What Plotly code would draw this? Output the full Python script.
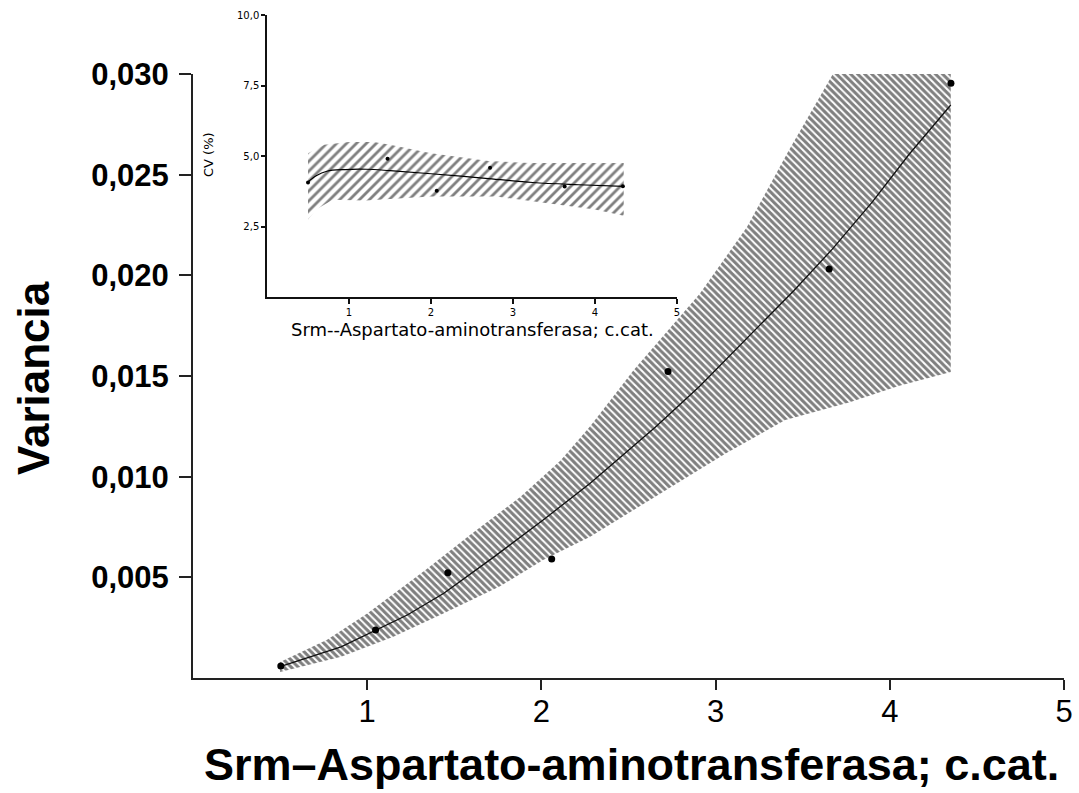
import plotly.graph_objects as go

# ---------------- main chart data ----------------
main_x = [0.504, 1.048, 1.463, 2.059, 2.727, 3.652, 4.351]
main_y = [0.0006, 0.00238, 0.00523, 0.00591, 0.01522, 0.02032, 0.02954]

fit_x = [0.5, 0.85, 1.23, 1.44, 1.73, 2.01, 2.28, 2.66, 2.91, 3.23, 3.45, 3.67, 3.9, 4.11, 4.35]
fit_y = [0.00056, 0.00155, 0.00313, 0.00421, 0.00603, 0.00785, 0.00967, 0.01250,
         0.01450, 0.01730, 0.01925, 0.02130, 0.02365, 0.02600, 0.02846]

band_up_x = [0.5, 0.77, 1.0, 1.34, 1.59, 1.88, 2.11, 2.28, 2.53, 2.91, 3.18, 3.42, 3.68, 4.35]
band_up_y = [0.0008, 0.0019, 0.0032, 0.0054, 0.0071, 0.0090, 0.0108, 0.0125, 0.0153,
             0.0191, 0.0224, 0.0262, 0.0301, 0.0301]
band_lo_x = [0.5, 0.85, 1.15, 1.44, 1.76, 2.01, 2.28, 2.72, 3.06, 3.40, 3.77, 4.05, 4.35]
band_lo_y = [0.0003, 0.00106, 0.00205, 0.00321, 0.00454, 0.00586, 0.00702, 0.00934,
             0.01116, 0.01282, 0.0137, 0.0145, 0.0152]

main_xticks = [1, 2, 3, 4, 5]
main_xticktext = ["1", "2", "3", "4", "5"]
main_yticks = [0.005, 0.010, 0.015, 0.020, 0.025, 0.030]
main_yticktext = ["0,005", "0,010", "0,015", "0,020", "0,025", "0,030"]

# ---------------- inset data ----------------
ins_x = [0.5, 1.47, 2.07, 2.72, 3.63, 4.34]
ins_y = [4.06, 4.9, 3.77, 4.58, 3.92, 3.93]

ins_fit_x = [0.5, 0.6, 0.73, 0.95, 1.21, 1.5, 2.0, 2.7, 3.24, 3.8, 4.35]
ins_fit_y = [4.08, 4.3, 4.46, 4.52, 4.53, 4.48, 4.37, 4.2, 4.06, 3.98, 3.92]

ins_up_x = [0.5, 0.7, 1.0, 1.3, 1.5, 2.0, 2.7, 3.2, 4.35]
ins_up_y = [5.1, 5.4, 5.5, 5.5, 5.4, 5.1, 4.82, 4.75, 4.75]
ins_lo_x = [0.5, 0.6, 0.8, 1.2, 1.5, 2.0, 2.8, 3.6, 4.0, 4.35]
ins_lo_y = [2.75, 3.1, 3.45, 3.42, 3.48, 3.56, 3.56, 3.25, 3.1, 2.88]

ins_xticks = [1, 2, 3, 4, 5]
ins_xticktext = ["1", "2", "3", "4", "5"]
ins_yticks = [2.5, 5.0, 7.5, 10.0]
ins_yticktext = ["2,5", "5,0", "7,5", "10,0"]

W, H = 1079, 793
ML, MR, MT, MB = 193, 15, 15, 115
PW, PH = W - ML - MR, H - MT - MB


def px_x(p):
    return (p - ML) / PW


def px_y(p):
    return (H - MB - p) / PH


fig = go.Figure()

# main band
fig.add_trace(go.Scatter(
    x=band_up_x + band_lo_x[::-1], y=band_up_y + band_lo_y[::-1],
    mode="lines", line=dict(width=0), fill="toself",
    fillcolor="rgba(0,0,0,0)",
    fillpattern=dict(shape="\\", size=5, solidity=0.6, fgcolor="black",
                     bgcolor="rgba(0,0,0,0)"),
    xaxis="x", yaxis="y", showlegend=False, hoverinfo="skip"))
fig.add_trace(go.Scatter(
    x=fit_x, y=fit_y, mode="lines", line=dict(color="#111", width=1.3),
    xaxis="x", yaxis="y", showlegend=False))
fig.add_trace(go.Scatter(
    x=main_x, y=main_y, mode="markers", marker=dict(color="black", size=7, symbol="circle"),
    xaxis="x", yaxis="y", showlegend=False))

# inset band
fig.add_trace(go.Scatter(
    x=ins_up_x + ins_lo_x[::-1], y=ins_up_y + ins_lo_y[::-1],
    mode="lines", line=dict(width=0), fill="toself",
    fillcolor="rgba(0,0,0,0)",
    fillpattern=dict(shape="/", size=7, solidity=0.4, fgcolor="black",
                     bgcolor="rgba(0,0,0,0)"),
    xaxis="x2", yaxis="y2", showlegend=False, hoverinfo="skip"))
fig.add_trace(go.Scatter(
    x=ins_fit_x, y=ins_fit_y, mode="lines", line=dict(color="black", width=1.2, shape="spline"),
    xaxis="x2", yaxis="y2", showlegend=False))
fig.add_trace(go.Scatter(
    x=ins_x, y=ins_y, mode="markers", marker=dict(color="black", size=4),
    xaxis="x2", yaxis="y2", showlegend=False))

axis_common = dict(showgrid=False, zeroline=False, showline=True, ticks="outside",
                   automargin=False)
main_font = "Liberation Sans, Arial, sans-serif"
ins_font = "DejaVu Sans, Verdana, sans-serif"

fig.update_layout(
    width=W, height=H,
    margin=dict(l=ML, r=MR, t=MT, b=MB, autoexpand=False),
    paper_bgcolor="white", plot_bgcolor="rgba(0,0,0,0)",
    xaxis=dict(**axis_common, domain=[0, 1], anchor="y", range=[0, 5],
               tickvals=main_xticks, ticktext=main_xticktext,
               linecolor="#222", linewidth=2, tickcolor="#222", tickwidth=2, ticklen=10,
               ticklabelstandoff=-5,
               tickfont=dict(family=main_font, size=31, color="black")),
    yaxis=dict(**axis_common, domain=[0, px_y(74)], anchor="x", range=[0, 0.030],
               tickvals=main_yticks, ticktext=main_yticktext,
               linecolor="#222", linewidth=2, tickcolor="#222", tickwidth=2, ticklen=12,
               ticklabelstandoff=4,
               tickfont=dict(family=main_font, size=31, color="black", weight="bold")),
    xaxis2=dict(**axis_common, domain=[px_x(267), px_x(677)], anchor="y2", range=[0, 5],
                tickvals=ins_xticks, ticktext=ins_xticktext,
                linecolor="#111", linewidth=1.5, tickcolor="#111", tickwidth=1.5, ticklen=5,
                tickfont=dict(family=ins_font, size=10, color="black")),
    yaxis2=dict(**axis_common, domain=[px_y(297), 1], anchor="x2", range=[0, 10],
                tickvals=ins_yticks, ticktext=ins_yticktext,
                linecolor="#111", linewidth=1.5, tickcolor="#111", tickwidth=1.5, ticklen=4,
                tickfont=dict(family=ins_font, size=10, color="black")),
    annotations=[
        dict(text="<b>Variancia</b>", x=px_x(33), y=px_y(378), xref="paper", yref="paper",
             textangle=-90, showarrow=False, xanchor="center", yanchor="middle",
             font=dict(family=main_font, size=44, color="black")),
        dict(text="<b>Srm–Aspartato-aminotransferasa; c.cat.</b>", x=px_x(631), y=px_y(764),
             xref="paper", yref="paper", showarrow=False, xanchor="center", yanchor="middle",
             font=dict(family=main_font, size=45, color="black")),
        dict(text="Srm--Aspartato-aminotransferasa; c.cat.", x=px_x(472), y=px_y(329),
             xref="paper", yref="paper", showarrow=False, xanchor="center", yanchor="middle",
             font=dict(family=ins_font, size=18, color="black")),
        dict(text="CV (%)", x=px_x(208), y=px_y(155), xref="paper", yref="paper",
             textangle=-90, showarrow=False, xanchor="center", yanchor="middle",
             font=dict(family=ins_font, size=13, color="black")),
    ],
)

fig.write_html("out.html")
